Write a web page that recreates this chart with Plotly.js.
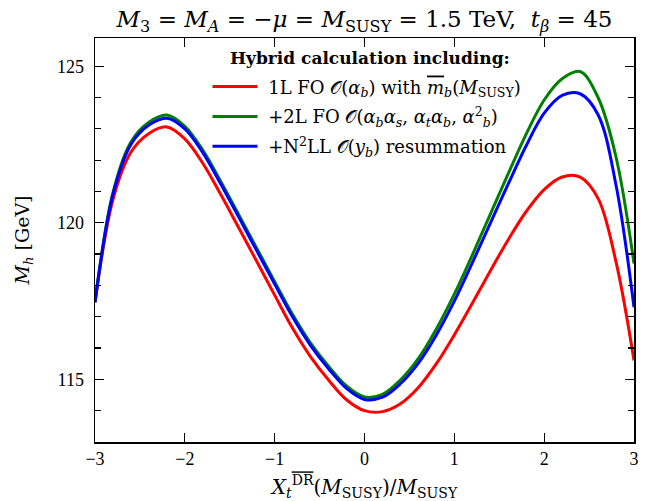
<!DOCTYPE html>
<html>
<head>
<meta charset="utf-8">
<script src="https://cdn.plot.ly/plotly-3.0.1.min.js"></script>
<style>html,body{margin:0;padding:0;background:#fff;}</style>
</head>
<body>
<div id="chart" style="width:647px;height:501px;"></div>
<script>
// X_t / M_SUSY sample points
const xt = [-3, -2.8, -2.6, -2.4, -2.2, -2.0, -1.8, -1.6, -1.4, -1.2, -1.0, -0.8, -0.6, -0.4, -0.2, 0, 0.2, 0.4, 0.6, 0.8, 1.0, 1.2, 1.4, 1.6, 1.8, 2.0, 2.2, 2.4, 2.6, 2.8, 3.0];

// M_h [GeV]
const mh1L   = [117.45, 120.74, 122.25, 122.85, 123.06, 122.68, 121.9, 120.9, 119.84, 118.77, 117.69, 116.63, 115.72, 114.98, 114.35, 114.0, 113.97, 114.22, 114.74, 115.5, 116.42, 117.43, 118.46, 119.46, 120.36, 121.06, 121.46, 121.46, 120.78, 118.75, 115.6];
const mh2L   = [117.47, 120.97, 122.58, 123.21, 123.44, 123.08, 122.32, 121.32, 120.26, 119.19, 118.12, 117.07, 116.16, 115.42, 114.79, 114.44, 114.52, 114.98, 115.67, 116.61, 117.72, 118.97, 120.27, 121.57, 122.83, 123.92, 124.6, 124.83, 124.0, 122.1, 118.7];
const mhN2LL = [117.47, 120.9, 122.5, 123.12, 123.34, 123.0, 122.24, 121.24, 120.18, 119.11, 118.04, 116.99, 116.08, 115.34, 114.71, 114.36, 114.43, 114.86, 115.52, 116.42, 117.5, 118.72, 119.98, 121.24, 122.46, 123.5, 124.07, 124.12, 123.45, 121.2, 117.3];

const legendHeader = '<b>Hybrid calculation including:</b>';
const pad = '\u00a0';
const names = [
  pad + '1L FO 𝒪(<i>α<sub>b</sub></i>) with <span style="text-decoration:overline"><i>m</i></span><sub><i>b</i></sub>(<i>M</i><sub>SUSY</sub>)',
  pad + '+2L FO 𝒪(<i>α<sub>b</sub>α<sub>s</sub></i>, <i>α<sub>t</sub>α<sub>b</sub></i>, <i>α</i><sup>2</sup><sub><i>b</i></sub>)',
  pad + '+N<sup>2</sup>LL 𝒪(<i>y<sub>b</sub></i>) resummation'
];
const colors = ['#ff0000', '#008000', '#0000ff'];
const series = [mh1L, mh2L, mhN2LL];

const traces = series.map((ys, i) => ({
  x: xt, y: ys, type: 'scatter', mode: 'lines', name: names[i],
  legendgroup: 'g' + i,
  line: {color: colors[i], width: 3, shape: 'spline', smoothing: 1}
}));

const serif = 'Liberation Serif, DejaVu Serif, serif';
const dserif = 'DejaVu Serif, Liberation Serif, serif';
const layout = {
  width: 647, height: 501,
  margin: {l: 95, r: 13, t: 38, b: 59},
  paper_bgcolor: '#fff', plot_bgcolor: '#fff',
  font: {family: dserif, color: '#000', size: 16},
  title: {
    text: '<i>M</i><sub>3</sub> = <i>M<sub>A</sub></i> = −<i>μ</i> = <i>M</i><sub>SUSY</sub> = 1.5 TeV,  <i>t<sub>β</sub></i> = 45',
    x: 0.5, xref: 'paper', xanchor: 'center',
    y: 0.962, yref: 'container', yanchor: 'middle',
    font: {size: 23, family: dserif, color: '#000'}
  },
  xaxis: {
    range: [-3, 3], tick0: -3, dtick: 1,
    ticks: 'inside', ticklen: 9, tickwidth: 1.2, tickcolor: '#000',
    showline: true, linewidth: 1.5, linecolor: '#000', mirror: 'ticks',
    showgrid: false, zeroline: false,
    tickfont: {size: 18, family: serif}, ticklabelstandoff: 0,
    title: {text: '<i>X</i><sub><i>t</i></sub><sup><span style="text-decoration:overline">DR</span></sup>(<i>M</i><sub>SUSY</sub>)/<i>M</i><sub>SUSY</sub>', standoff: 12, font: {size: 20, family: dserif}}
  },
  yaxis: {
    range: [113, 125.9], tick0: 115, dtick: 5,
    ticks: 'inside', ticklen: 9, tickwidth: 1.2, tickcolor: '#000',
    minor: {dtick: 1, tick0: 115, ticks: 'inside', ticklen: 6, tickwidth: 1.2, tickcolor: '#000'},
    showline: true, linewidth: 1.5, linecolor: '#000', mirror: 'ticks',
    showgrid: false, zeroline: false,
    tickfont: {size: 18, family: serif}, ticklabelstandoff: 6,
    title: {text: '<i>M<sub>h</sub></i> [GeV]', standoff: 22, font: {size: 19, family: dserif}}
  },
  annotations: [{
    text: legendHeader, xref: 'paper', yref: 'paper',
    x: 0.51, y: 1 - (58 - 38) / 404, xanchor: 'center', yanchor: 'middle',
    showarrow: false, font: {size: 17, family: dserif, color: '#000'}
  }],
  showlegend: true,
  legend: {
    x: 0.2087, y: 0.925, xanchor: 'left', yanchor: 'top',
    bgcolor: 'rgba(0,0,0,0)', borderwidth: 0,
    font: {size: 18, family: dserif, color: '#000'},
    itemwidth: 45, tracegroupgap: 3.5
  }
};

Plotly.newPlot('chart', traces, layout, {displayModeBar: false, staticPlot: true});
</script>
</body>
</html>
